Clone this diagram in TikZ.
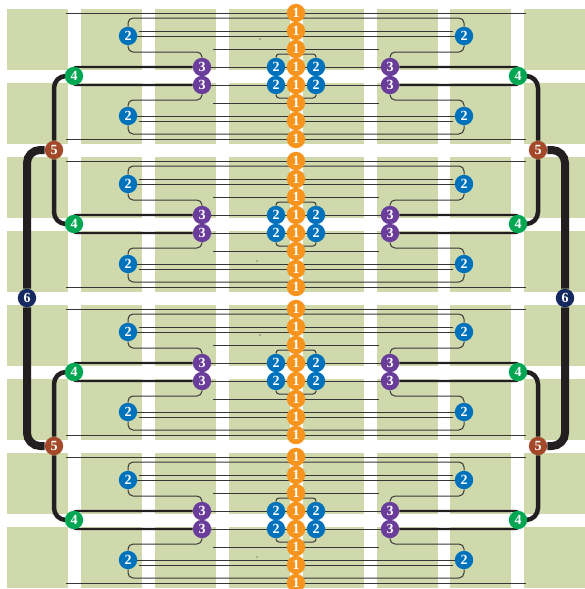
\documentclass[tikz,border=0pt]{standalone}
\usepackage{xcolor}
\usepackage{fontspec}
\setmainfont{Liberation Serif}
\usepackage{tikz}
\usetikzlibrary{backgrounds}

\definecolor{plot}{HTML}{CFD9AC}
\definecolor{cable}{HTML}{231F20}

\begin{document}
\begin{tikzpicture}[
  x=1pt, y=-1pt,
  badge/.style={circle, minimum size=18.4pt, inner sep=0pt, text=white,
    font=\fontsize{14}{14}\selectfont\bfseries},
  levelone/.style={badge, fill={rgb,255:red,247;green,148;blue,30}},
  leveltwo/.style={badge, fill={rgb,255:red,0;green,114;blue,188}},
  levelthree/.style={badge, fill={rgb,255:red,106;green,61;blue,154}},
  levelfour/.style={badge, fill={rgb,255:red,0;green,166;blue,81}},
  levelfive/.style={badge, fill={rgb,255:red,163;green,73;blue,41}},
  levelsix/.style={badge, fill={rgb,255:red,20;green,41;blue,95}},
  wire/.style={draw=cable!90, line width=1pt, rounded corners=5pt},
  tightwire/.style={wire, rounded corners=3pt},
  feeder/.style={draw=cable, line width=2.4pt, rounded corners=2pt},
  riser/.style={draw=cable, line width=4.5pt, rounded corners=12pt},
  trunk/.style={draw=cable, line width=8pt, rounded corners=13pt}
]

\useasboundingbox (0,0) rectangle (584,589);

\begin{pgfonlayer}{background}
  \foreach \x in {7,81,155,229,303,376.5,450,524}
    \foreach \y in {9,83,157,231,305,379,453,527}
      \fill[plot] (\x,\y) rectangle +(61,61);
\end{pgfonlayer}

% nodes of each group, stacked every 148
\foreach \g in {0,...,3} {
  \begin{scope}[shift={(0,148*\g)}]
    \foreach \k in {0,...,7}
      \node[levelone] (one\g-\k) at (296,{13+18*\k}) {1};
    \foreach \k/\xa in {0/66, 1/139, 2/213, 5/213, 6/139, 7/66} {
      \coordinate (stubL\g-\k) at (\xa,{13+18*\k});
      \coordinate (stubR\g-\k) at ({592-\xa},{13+18*\k});
    }
    \foreach \s/\x in {L/0, R/592} {
      \node[leveltwo] (two\s\g-a) at ({abs(\x-128)},36) {2};
      \node[leveltwo] (two\s\g-b) at ({abs(\x-128)},116) {2};
      \node[leveltwo] (mid\s\g-a) at ({abs(\x-276)},67) {2};
      \node[leveltwo] (mid\s\g-b) at ({abs(\x-276)},85) {2};
      \node[levelthree] (three\s\g-a) at ({abs(\x-202)},67) {3};
      \node[levelthree] (three\s\g-b) at ({abs(\x-202)},85) {3};
      \node[levelfour] (four\s\g) at ({abs(\x-74)},76) {4};
      \coordinate (bend\s\g-a) at ({abs(\x-165)},52);
      \coordinate (bend\s\g-b) at ({abs(\x-165)},100);
    }
    \coordinate (overtop\g) at (296,18);
    \coordinate (overbot\g) at (296,134);
    \coordinate (hoopA\g) at (296,54);
    \coordinate (hoopB\g) at (296,98);
  \end{scope}
}
\node[levelfive] (fiveL0) at (54,150) {5};
\node[levelfive] (fiveR0) at (538,150) {5};
\node[levelfive] (fiveL1) at (54,446) {5};
\node[levelfive] (fiveR1) at (538,446) {5};
\node[levelsix] (sixL) at (27,298) {6};
\node[levelsix] (sixR) at (565,298) {6};

\begin{pgfonlayer}{background}
  \foreach \g in {0,...,3} {
    \foreach \k in {0,1,2,5,6,7}
      \draw[wire] (stubL\g-\k) -- (one\g-\k) -- (stubR\g-\k);
    \draw[wire] (twoL\g-a) -- (twoR\g-a);
    \draw[wire] (twoL\g-b) -- (twoR\g-b);
    \draw[wire] (twoL\g-a) |- (overtop\g) -| (twoR\g-a);
    \draw[wire] (twoL\g-b) |- (overbot\g) -| (twoR\g-b);
    \draw[tightwire] (midL\g-a) |- (hoopA\g) -| (midR\g-a);
    \draw[tightwire] (midL\g-b) |- (hoopB\g) -| (midR\g-b);
    \draw[wire] (threeL\g-a) -- (threeR\g-a);
    \draw[wire] (threeL\g-b) -- (threeR\g-b);
    \foreach \s in {L,R} {
      \draw[wire] (two\s\g-a) |- (bend\s\g-a) -| (three\s\g-a);
      \draw[wire] (two\s\g-b) |- (bend\s\g-b) -| (three\s\g-b);
      \draw[feeder] (four\s\g.center) |- (three\s\g-a);
      \draw[feeder] (four\s\g.center) |- (three\s\g-b);
    }
  }
  \foreach \s in {L,R} {
    \draw[riser] (four\s0) -| (five\s0);
    \draw[riser] (four\s1) -| (five\s0);
    \draw[riser] (four\s2) -| (five\s1);
    \draw[riser] (four\s3) -| (five\s1);
    \draw[trunk] (five\s0) -| (six\s);
    \draw[trunk] (five\s1) -| (six\s);
  }
  % specks
  \fill[cable] (260,39) circle (0.6) (257,261) circle (0.6)
    (260,335) circle (0.6) (257,557) circle (0.6);
\end{pgfonlayer}

\end{tikzpicture}
\end{document}
